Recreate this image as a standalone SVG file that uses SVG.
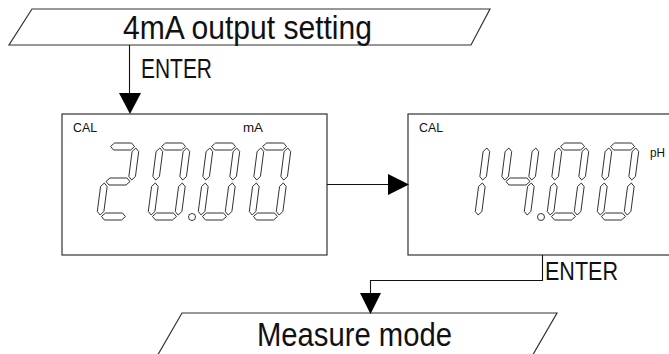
<svg xmlns="http://www.w3.org/2000/svg" xmlns:xlink="http://www.w3.org/1999/xlink" width="669" height="354" viewBox="0 0 669 354">
<style>
.shape{fill:#fff;stroke:#333;stroke-width:1.2}
.conn{fill:none;stroke:#111;stroke-width:1.1}
.head{fill:#000;stroke:none}
.seg{fill:#fff;stroke:#222;stroke-width:0.9;stroke-linejoin:round}
.big{font-family:"Liberation Sans Narrow","Liberation Sans",Arial,sans-serif;fill:#111}
.small{font-family:"Liberation Sans Narrow","Liberation Sans",Arial,sans-serif;font-size:13px;fill:#111}
</style>
<defs>
<polygon id="sa" class="seg" points="5,3.5 8.5,0 25.5,0 29,3.5 25.5,7 8.5,7"/>
<polygon id="sg" class="seg" points="5,38.5 8.5,35 25.5,35 29,38.5 25.5,42 8.5,42"/>
<polygon id="sd" class="seg" points="5,73.5 8.5,70 25.5,70 29,73.5 25.5,77 8.5,77"/>
<polygon id="sf" class="seg" points="3.5,5 6.8,8.5 6.8,33.5 3.5,37 0.2,33.5 0.2,8.5"/>
<polygon id="se" class="seg" points="3.5,40 6.8,43.5 6.8,68.5 3.5,72 0.2,68.5 0.2,43.5"/>
<polygon id="sb" class="seg" points="30.5,5 33.8,8.5 33.8,33.5 30.5,37 27.2,33.5 27.2,8.5"/>
<polygon id="sc" class="seg" points="30.5,40 33.8,43.5 33.8,68.5 30.5,72 27.2,68.5 27.2,43.5"/>
<g id="d0"><use xlink:href="#sa"/><use xlink:href="#sb"/><use xlink:href="#sc"/><use xlink:href="#sd"/><use xlink:href="#se"/><use xlink:href="#sf"/></g>
<g id="d2"><use xlink:href="#sa"/><use xlink:href="#sb"/><use xlink:href="#sg"/><use xlink:href="#se"/><use xlink:href="#sd"/></g>
<g id="d1"><use xlink:href="#sb"/><use xlink:href="#sc"/></g>
<g id="d4"><use xlink:href="#sf"/><use xlink:href="#sg"/><use xlink:href="#sb"/><use xlink:href="#sc"/></g>
</defs>

<g id="start">
<polygon class="shape" points="32,9 490,9 471,45 9,45"/>
<text class="big" x="123" y="38.5" font-size="33" textLength="249" lengthAdjust="spacingAndGlyphs">4mA output setting</text>
</g>

<g id="display-ma">
<rect class="shape" x="62" y="114" width="265" height="141"/>
<text class="small" x="73" y="132" textLength="24" lengthAdjust="spacingAndGlyphs">CAL</text>
<text class="small" x="243" y="132" textLength="20" lengthAdjust="spacingAndGlyphs">mA</text>
<use xlink:href="#d2" transform="translate(106,143) skewX(-7.4)"/>
<use xlink:href="#d0" transform="translate(157,143) skewX(-7.4)"/>
<use xlink:href="#d0" transform="translate(207,143) skewX(-7.4)"/>
<use xlink:href="#d0" transform="translate(258,143) skewX(-7.4)"/>
<circle class="seg" cx="192" cy="217" r="3.5"/>
</g>

<g id="display-ph">
<rect class="shape" x="408" y="114" width="280" height="141"/>
<text class="small" x="419" y="132" textLength="24" lengthAdjust="spacingAndGlyphs">CAL</text>
<text class="small" x="650" y="157" textLength="15" lengthAdjust="spacingAndGlyphs">pH</text>
<use xlink:href="#d1" transform="translate(457,143) skewX(-7.4)"/>
<use xlink:href="#d4" transform="translate(506,143) skewX(-7.4)"/>
<use xlink:href="#d0" transform="translate(556,143) skewX(-7.4)"/>
<use xlink:href="#d0" transform="translate(606,143) skewX(-7.4)"/>
<circle class="seg" cx="541" cy="217" r="3.5"/>
</g>

<g id="end">
<polygon class="shape" points="182,313 557,313 531,358 156,358"/>
<text class="big" x="257" y="345.5" font-size="33" textLength="195" lengthAdjust="spacingAndGlyphs">Measure mode</text>
</g>

<g id="connectors">
<line class="conn" x1="129.5" y1="45" x2="129.5" y2="94"/>
<polygon class="head" points="119,93 141,93 130,114"/>
<text class="big" x="141" y="78" font-size="27" textLength="71" lengthAdjust="spacingAndGlyphs">ENTER</text>
<line class="conn" x1="327" y1="184.5" x2="389" y2="184.5"/>
<polygon class="head" points="388,174 388,195 409,184.5"/>
<polyline class="conn" points="542.5,255 542.5,280.5 370.5,280.5 370.5,294"/>
<polygon class="head" points="360,293 381,293 370.5,314"/>
<text class="big" x="545" y="280" font-size="26" textLength="73" lengthAdjust="spacingAndGlyphs">ENTER</text>
</g>
</svg>
